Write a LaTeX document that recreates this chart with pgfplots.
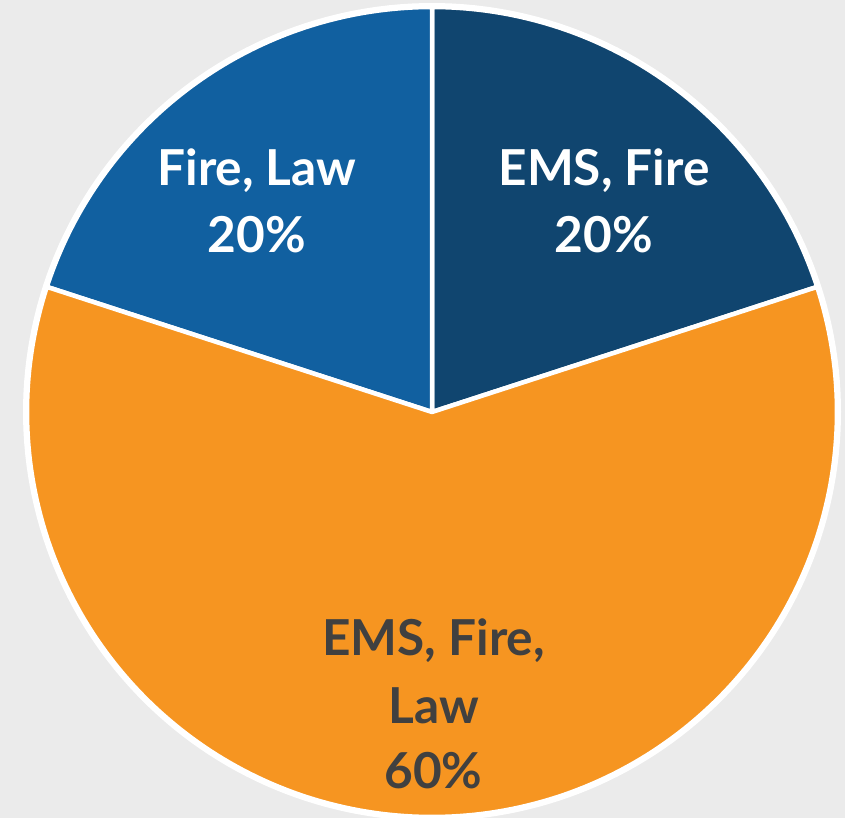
\documentclass[border=0pt]{standalone}
\usepackage{pgfplots}
\pgfplotsset{compat=1.18}
\usepackage{fontspec}
\setmainfont{Lato}
\definecolor{bg}{HTML}{EBEBEB}
\definecolor{navy}{HTML}{10456F}
\definecolor{midblue}{HTML}{1160A0}
\definecolor{pieorange}{HTML}{F69521}
\definecolor{darktext}{HTML}{404040}
\begin{document}
\begin{tikzpicture}
\begin{axis}[width=8.45cm,height=8.18cm,scale only axis,
  xmin=0,xmax=845,ymin=0,ymax=818,hide axis,clip=true]
\fill[bg] (axis cs:0,0) rectangle (axis cs:845,818);
% outer white ring
\addplot[draw=none,fill=white,domain=0:360,samples=241]
  ({432+409*cos(x)},{406+409*sin(x)}) -- cycle;
% slices: EMS, Fire 20% ; Fire, Law 20% ; EMS, Fire, Law 60%
\addplot[fill=navy,draw=white,line width=0.45mm,line join=round,domain=18:90,samples=80]
  ({432+405*cos(x)},{406+405*sin(x)}) -- (axis cs:432,406) -- cycle;
\addplot[fill=midblue,draw=white,line width=0.45mm,line join=round,domain=90:162,samples=80]
  ({432+405*cos(x)},{406+405*sin(x)}) -- (axis cs:432,406) -- cycle;
\addplot[fill=pieorange,draw=white,line width=0.45mm,line join=round,domain=162:378,samples=200]
  ({432+405*cos(x)},{406+405*sin(x)}) -- (axis cs:432,406) -- cycle;
\tikzset{lbl/.style={anchor=base,inner sep=0pt,font=\fontsize{14.1}{19}\selectfont\bfseries}}
\node[lbl,white] at (axis cs:604,633) {EMS, Fire};
\node[lbl,white] at (axis cs:604,566) {20\%};
\node[lbl,white] at (axis cs:257,633) {Fire, Law};
\node[lbl,white] at (axis cs:257,566) {20\%};
\node[lbl,darktext] at (axis cs:433.5,163) {EMS, Fire,};
\node[lbl,darktext] at (axis cs:433.5,95) {Law};
\node[lbl,darktext] at (axis cs:433.5,30) {60\%};
\end{axis}
\end{tikzpicture}
\end{document}
